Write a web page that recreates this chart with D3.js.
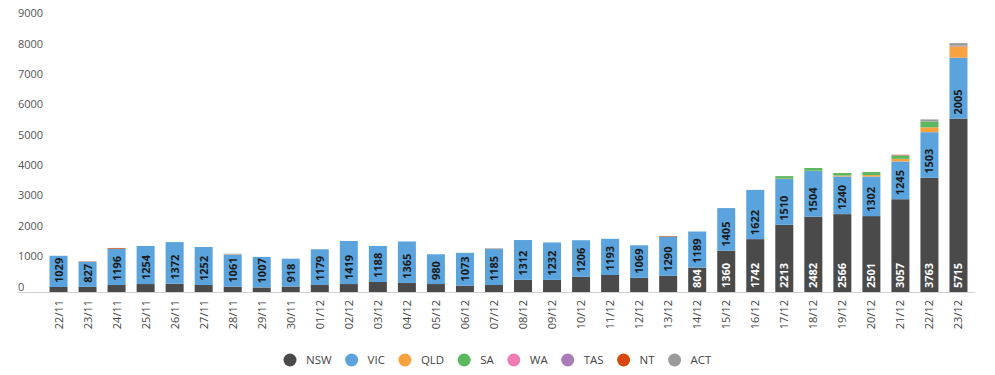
<!DOCTYPE html>
<html>
<head>
<meta charset="utf-8">
<script src="https://cdn.jsdelivr.net/npm/d3@7"></script>
<style>
  html, body { margin: 0; padding: 0; background: #fff; }
  svg { display: block; font-family: "Open Sans", "DejaVu Sans", sans-serif; }
</style>
</head>
<body>
<svg id="chart" width="995" height="375"></svg>
<script>
// ---- Data ----
const dates = ["22/11","23/11","24/11","25/11","26/11","27/11","28/11","29/11","30/11",
  "01/12","02/12","03/12","04/12","05/12","06/12","07/12","08/12","09/12","10/12","11/12",
  "12/12","13/12","14/12","15/12","16/12","17/12","18/12","19/12","20/12","21/12","22/12","23/12"];
const NSW = [165,170,230,262,272,230,175,150,180,230,262,330,300,262,210,230,400,400,500,560,470,536,804,1360,1742,2213,2482,2566,2501,3057,3763,5715];
const VIC = [1029,827,1196,1254,1372,1252,1061,1007,918,1179,1419,1188,1365,980,1073,1185,1312,1232,1206,1193,1069,1290,1189,1405,1622,1510,1504,1240,1302,1245,1503,2005];
const QLD = [0,0,0,0,0,0,10,0,0,0,0,0,0,0,0,5,0,0,0,0,0,0,0,0,0,15,10,30,50,85,160,370];
const SA  = [0,0,0,0,0,0,0,0,0,0,0,0,0,0,10,0,0,0,0,0,0,0,0,0,0,80,90,85,100,110,190,0];
const WA  = [0,0,0,0,0,0,0,0,0,0,0,0,0,0,0,0,0,0,0,0,0,0,0,0,0,0,0,0,0,0,0,0];
const TAS = [0,0,0,0,0,0,0,0,0,0,0,0,0,0,0,0,0,0,0,0,0,0,0,0,0,0,0,0,0,10,0,25];
const NT  = [0,10,25,0,0,0,0,0,0,0,0,0,0,0,0,0,0,0,0,0,0,20,0,0,0,0,0,0,0,15,0,0];
const ACT = [0,0,0,0,0,0,15,0,0,0,0,0,0,0,0,20,0,0,0,0,0,0,0,0,0,0,0,0,0,0,70,85];
const seriesNames = ["NSW","VIC","QLD","SA","WA","TAS","NT","ACT"];
const seriesColors = ["#4a4a4a","#5ba3dc","#f7a23f","#5cb85f","#f07cb4","#a97bb8","#d6490b","#9b9b9b"];
const yTicks = [0,1000,2000,3000,4000,5000,6000,7000,8000,9000];
const nswLabelMin = 800;

// ---- Build table ----
const seriesData = {NSW, VIC, QLD, SA, WA, TAS, NT, ACT};
const table = dates.map((d, i) => {
  const row = {date: d};
  seriesNames.forEach(s => row[s] = seriesData[s][i]);
  return row;
});
const stacked = d3.stack().keys(seriesNames)(table);

const svg = d3.select("#chart");
const x = d3.scaleBand().domain(dates).range([44, 973]).paddingInner(0.38).paddingOuter(0.19);
const y = d3.scaleLinear().domain([0, 9000]).range([292, 18.85]);
const color = d3.scaleOrdinal().domain(seriesNames).range(seriesColors);

// y tick labels (no gridlines)
svg.append("g").selectAll("text").data(yTicks).join("text")
  .attr("x", 18).attr("y", d => y(d) - 1.5)
  .attr("font-size", 11).attr("fill", "#555")
  .text(d => d);

// bars
svg.append("g").selectAll("g").data(stacked).join("g")
  .attr("fill", d => color(d.key))
  .selectAll("rect").data(d => d).join("rect")
  .attr("x", d => x(d.data.date))
  .attr("width", x.bandwidth())
  .attr("y", d => y(d[1]))
  .attr("height", d => Math.max(0, y(d[0]) - y(d[1])));

// axis line
svg.append("line").attr("x1", 17).attr("x2", 975).attr("y1", y(0) + 0.5).attr("y2", y(0) + 0.5)
  .attr("stroke", "#d0d0d0").attr("stroke-width", 1);

// x tick labels
svg.append("g").selectAll("text").data(dates).join("text")
  .attr("transform", d => `translate(${x(d) + x.bandwidth() / 2 + 4},300) rotate(-90)`)
  .attr("text-anchor", "end")
  .attr("font-size", 11).attr("fill", "#444")
  .text(d => d);

// value labels
const nswLayer = stacked[0], vicLayer = stacked[1];
svg.append("g").selectAll("text").data(vicLayer).join("text")
  .attr("transform", d => `translate(${x(d.data.date) + x.bandwidth() / 2 + 4},${y(d[0]) - 4}) rotate(-90)`)
  .attr("text-anchor", "start")
  .attr("font-size", 11).attr("font-weight", 700).attr("fill", "#1a1a1a")
  .text(d => d.data.VIC);
svg.append("g").selectAll("text").data(nswLayer.filter(d => d.data.NSW >= nswLabelMin)).join("text")
  .attr("transform", d => `translate(${x(d.data.date) + x.bandwidth() / 2 + 4},${y(0) - 4}) rotate(-90)`)
  .attr("text-anchor", "start")
  .attr("font-size", 11).attr("font-weight", 700).attr("fill", "#ffffff")
  .text(d => d.data.NSW);

// legend
const legend = svg.append("g");
let lx = 290;
seriesNames.forEach((s, i) => {
  legend.append("circle").attr("cx", lx).attr("cy", 360).attr("r", 6.5).attr("fill", seriesColors[i]);
  const t = legend.append("text").attr("x", lx + 16).attr("y", 364)
    .attr("font-size", 11.5).attr("fill", "#444").text(s);
  lx = lx + 16 + t.node().getComputedTextLength() + 20;
});
</script>
</body>
</html>
